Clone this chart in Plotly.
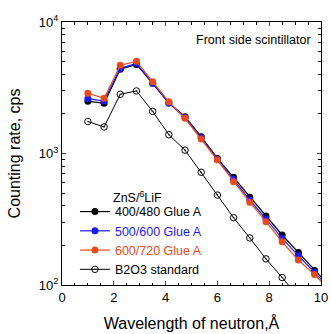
import plotly.graph_objects as go

wavelength = [1.0, 1.625, 2.25, 2.875, 3.5, 4.125, 4.75, 5.375, 6.0, 6.625, 7.25, 7.875, 8.5, 9.125, 9.75, 10.375]
glue_400_480 = [2500, 2410, 4370, 4760, 3420, 2420, 1905, 1343, 918, 659, 464, 335, 240, 177, 129, 96]
glue_500_600 = [2610, 2506, 4440, 4850, 3420, 2420, 1880, 1315, 905, 637, 443, 318, 226, 167, 125, 93]
glue_600_720 = [2870, 2630, 4690, 5020, 3520, 2470, 1853, 1289, 893, 611, 426, 303, 213, 155, 120, 89]
wavelength_b2o3 = [1.0, 1.625, 2.25, 2.875, 3.5, 4.125, 4.75, 5.375, 6.0, 6.625, 7.25, 7.875, 8.5, 9.125]
b2o3_standard = [1750, 1592, 2820, 2990, 2090, 1390, 1060, 720, 483, 325, 228, 158, 114, 81]

BLUE = "#1a1aff"
ORANGE = "#e84a1a"
FONT = "Arial, Liberation Sans, sans-serif"

fig = go.Figure()
series = [
    ("400/480 Glue A", glue_400_480, "black", wavelength),
    (f"<span style='color:{BLUE}'>500/600 Glue A</span>", glue_500_600, BLUE, wavelength),
    (f"<span style='color:{ORANGE}'>600/720 Glue A</span>", glue_600_720, ORANGE, wavelength),
]
for name, vals, col, xs in series:
    fig.add_trace(go.Scatter(
        x=xs, y=vals, name=name, mode="lines+markers",
        line=dict(color=col, width=1.2),
        marker=dict(symbol="circle", size=7, color=col),
    ))
fig.add_trace(go.Scatter(
    x=wavelength_b2o3, y=b2o3_standard, name="B2O3 standard", mode="lines+markers",
    line=dict(color="black", width=1),
    marker=dict(symbol="circle-open-dot", size=6.5, color="black", line=dict(width=1)),
))

fig.update_layout(
    width=331, height=334,
    margin=dict(l=62, r=3, t=22, b=49),
    paper_bgcolor="white", plot_bgcolor="white",
    font=dict(family=FONT, size=13, color="black"),
    showlegend=True,
    legend=dict(
        x=0.05, y=0.004, xanchor="left", yanchor="bottom",
        bgcolor="rgba(0,0,0,0)", font=dict(size=12.5, family=FONT),
        tracegroupgap=0, itemwidth=30,
    ),
    annotations=[
        dict(x=0.97, y=0.93, xref="paper", yref="paper", xanchor="right", yanchor="middle",
             text="Front side scintillator", showarrow=False, font=dict(size=12.5, family=FONT)),
        dict(x=0.19, y=0.335, xref="paper", yref="paper", xanchor="left", yanchor="middle",
             text="ZnS/<sup>6</sup>LiF", showarrow=False, font=dict(size=12.5, family=FONT)),
    ],
)
fig.update_xaxes(
    range=[0, 10], dtick=2, tick0=0, ticks="inside", ticklen=4, tickwidth=1,
    showline=True, linecolor="black", linewidth=1, mirror="ticks", showgrid=False, zeroline=False,
    minor=dict(dtick=0.5, ticks="inside", ticklen=2.5, tickcolor="black"),
    title=dict(text="Wavelength of neutron,Å", font=dict(size=16), standoff=14),
    tickfont=dict(size=13), ticklabeloverflow="allow",
)
fig.update_yaxes(
    type="log", range=[2, 4],
    tickvals=[100, 1000, 10000], ticktext=["10<sup>2</sup>", "10<sup>3</sup>", "10<sup>4</sup>"],
    ticks="inside", ticklen=4, tickwidth=1,
    showline=True, linecolor="black", linewidth=1, mirror="ticks", showgrid=False, zeroline=False,
    minor=dict(tickvals=[v * m for v in (100, 1000) for m in range(2, 10)], ticks="inside", ticklen=3, tickcolor="black"),
    title=dict(text="Counting rate, cps", font=dict(size=16), standoff=14),
    tickfont=dict(size=13),
)
fig.write_html("out.html")
